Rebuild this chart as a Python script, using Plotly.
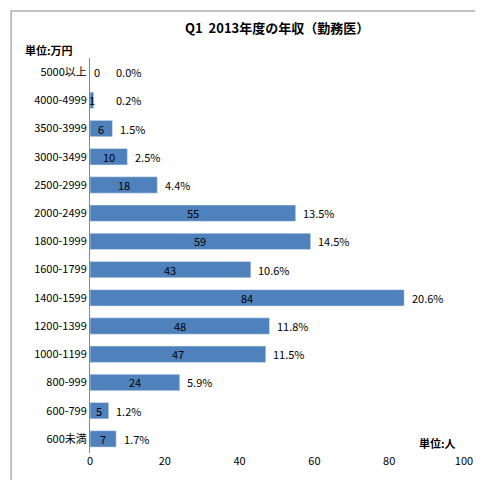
import plotly.graph_objects as go

categories = ["5000以上","4000-4999","3500-3999","3000-3499","2500-2999","2000-2499","1800-1999",
              "1600-1799","1400-1599","1200-1399","1000-1199","800-999","600-799","600未満"]
counts = [0,1,6,10,18,55,59,43,84,48,47,24,5,7]
percents = ["0.0%","0.2%","1.5%","2.5%","4.4%","13.5%","14.5%","10.6%","20.6%","11.8%","11.5%","5.9%","1.2%","1.7%"]

fig = go.Figure(go.Bar(y=categories, x=counts, orientation="h", marker_color="#4F81BD",
                       width=0.58, hoverinfo="skip"))
ann = []
for c, v, p in zip(categories, counts, percents):
    ann.append(dict(x=(v/2 if v >= 1 else 2), y=c, text=str(v), showarrow=False,
                    xanchor="center", font=dict(size=11, color="black")))
    ann.append(dict(x=max(v+1.5, 6.5), y=c, text=p, showarrow=False, xanchor="left",
                    font=dict(size=11, color="black")))
ann.append(dict(xref="paper", yref="paper", x=0.5, y=1.076, yanchor="middle",
                text="<b>Q1  2013年度の年収（勤務医）</b>", showarrow=False, font=dict(size=13)))
ann.append(dict(xref="paper", yref="paper", x=-0.179, y=1.02, xanchor="left", yanchor="middle",
                text="<b>単位:万円</b>", showarrow=False, font=dict(size=11)))
ann.append(dict(xref="paper", yref="paper", x=0.985, y=0.0, yanchor="bottom", xanchor="right",
                text="<b>単位:人</b>", showarrow=False, font=dict(size=11)))
fig.update_layout(
    width=483, height=480, margin=dict(l=82, r=27, t=50, b=35),
    paper_bgcolor="white", plot_bgcolor="white", showlegend=False,
    font=dict(family="Noto Sans CJK JP", size=11, color="black"),
    annotations=ann,
    xaxis=dict(range=[0,100], dtick=20, showgrid=False, zeroline=False, showline=False, ticks="",
               automargin=False),
    yaxis=dict(autorange="reversed", showline=True, linecolor="#868686", ticks="", showgrid=False,
               automargin=False),
    shapes=[dict(type="rect", xref="paper", yref="paper", x0=-0.211, x1=1.064, y0=-0.081, y1=1.119,
                 line=dict(color="#868686", width=1))],
)
fig.write_html("out.html")
